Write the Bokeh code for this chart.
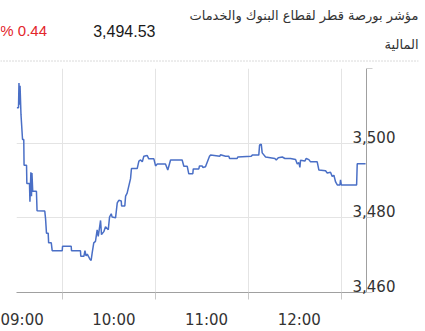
from bokeh.plotting import figure
from bokeh.layouts import column
from bokeh.models import Range1d, FixedTicker, Label, Span
from bokeh.embed import file_html
from bokeh.resources import INLINE

# ---------------- data ----------------
title_line1 = "مؤشر بورصة قطر لقطاع البنوك والخدمات"
title_line2 = "المالية"
last_value_text = "3,494.53"
change_text = "% 0.44"

open_hour = 9.5  # session opens 09:30
minutes_since_open = [
    0.2, 1.3, 1.6, 2.1, 2.3, 2.9, 3.9, 4.7, 4.9, 6.5,
    6.7, 8.4, 8.7, 9.3, 9.7, 10.0, 10.5, 12.9, 13.3, 18.3,
    18.8, 19.4, 20.5, 20.8, 22.5, 23.1, 29.6, 29.8, 35.4, 35.6,
    41.4, 41.6, 43.6, 44.3, 45.0, 45.8, 46.8, 47.4, 48.3, 49.0,
    50.0, 51.1, 52.2, 52.9, 54.4, 55.0, 56.5, 57.6, 59.4, 60.2,
    61.3, 61.9, 64.1, 65.2, 66.2, 67.8, 68.0, 70.1, 70.6, 71.6,
    73.8, 74.4, 78.1, 79.2, 80.3, 81.4, 82.4, 84.6, 85.6, 88.9,
    90.0, 91.1, 96.4, 97.9, 99.7, 107.2, 108.3, 110.5, 111.5, 114.1,
    114.4, 118.0, 118.4, 120.2, 120.6, 122.3, 124.9, 125.6, 131.6, 132.0,
    135.3, 137.4, 137.9, 142.8, 143.2, 151.9, 152.6, 156.8, 157.3, 158.4,
    159.0, 161.2, 167.2, 168.1, 169.4, 172.0, 173.7, 177.3, 180.6, 181.7,
    182.7, 183.4, 183.8, 186.6, 187.5, 189.2, 190.3, 194.6, 195.7, 200.0,
    201.1, 203.2, 204.3, 205.4, 206.5, 207.6, 209.3, 209.7, 210.2, 220.1,
    220.5, 225.9,
]
index_values = [
    3509.5, 3509.5, 3516.1, 3510.3, 3515.4, 3507.7, 3501.0, 3501.0, 3494.1, 3494.1,
    3489.2, 3489.2, 3484.3, 3492.2, 3485.8, 3492.0, 3487.1, 3487.1, 3481.9, 3481.8,
    3479.8, 3475.9, 3475.9, 3473.3, 3473.3, 3471.2, 3471.2, 3472.4, 3472.4, 3471.2,
    3471.2, 3469.7, 3469.7, 3471.2, 3469.8, 3470.3, 3469.5, 3469.0, 3468.6, 3470.7,
    3473.3, 3473.7, 3476.8, 3475.0, 3479.3, 3475.5, 3476.3, 3477.6, 3476.8, 3480.2,
    3481.1, 3480.2, 3480.0, 3484.0, 3484.7, 3484.5, 3483.2, 3483.2, 3485.8, 3486.6,
    3490.5, 3493.2, 3493.2, 3495.2, 3495.5, 3495.0, 3496.5, 3496.7, 3495.8, 3495.8,
    3493.9, 3494.4, 3494.4, 3492.8, 3495.5, 3495.5, 3493.8, 3493.8, 3491.8, 3491.8,
    3493.1, 3493.1, 3493.9, 3493.9, 3493.5, 3493.7, 3496.5, 3496.8, 3496.5, 3496.9,
    3496.5, 3496.5, 3495.9, 3495.9, 3496.3, 3496.5, 3496.8, 3496.8, 3499.5, 3499.7,
    3497.4, 3496.3, 3495.9, 3495.5, 3496.1, 3496.3, 3495.9, 3495.9, 3495.6, 3494.4,
    3494.8, 3493.5, 3495.4, 3495.2, 3495.9, 3495.6, 3495.0, 3495.0, 3492.8, 3492.6,
    3492.0, 3492.2, 3491.1, 3491.4, 3489.6, 3488.8, 3488.8, 3490.2, 3488.8, 3488.8,
    3494.5, 3494.5,
]

hour_ticks = [10, 11, 12, 13]
hour_label_pos = [9.55, 10.55, 11.55, 12.55]
hour_labels = ["09:00", "10:00", "11:00", "12:00"]
y_ticks = [3460, 3480, 3500, 3520]
x_end_hour = 13.275

hours = [open_hour + m / 60.0 for m in minutes_since_open]

AXIS_FONT = "DejaVu Sans"
TEXT_COLOR = "#333333"
GRID_COLOR = "#e4e4e4"

W = 425
HEAD_H = 62
CHART_H = 331 - HEAD_H

# ---------------- header (its own figure, pixel-like coordinates) ----------------
head = figure(width=W, height=HEAD_H, output_backend="svg", toolbar_location=None,
              x_range=Range1d(0, 418), y_range=Range1d(HEAD_H, 0),
              x_axis_type=None, y_axis_type=None,
              min_border_left=0, min_border_right=W - 418, min_border_top=0, min_border_bottom=0)
head.frame_align = False
head.outline_line_color = None
head.grid.visible = False

head.add_layout(Label(x=418, y=15, text=title_line1, text_align="right", text_baseline="middle",
                      text_font="DejaVu Sans", text_font_size="13px", text_color=TEXT_COLOR))
head.add_layout(Label(x=418, y=44, text=title_line2, text_align="right", text_baseline="middle",
                      text_font="DejaVu Sans", text_font_size="13px", text_color=TEXT_COLOR))
head.add_layout(Label(x=155, y=30, text=last_value_text, text_align="right", text_baseline="middle",
                      text_font="Liberation Sans", text_font_size="16px",
                      text_color="#1a1a1a"))
head.add_layout(Label(x=46.5, y=30, text=change_text, text_align="right", text_baseline="middle",
                      text_font="Liberation Sans", text_font_size="15px",
                      text_color="#e3262b"))
head.add_layout(Span(location=60.5, dimension="width", line_color="#b5b5b5",
                     line_dash="1 2", line_width=1))

# ---------------- chart ----------------
p = figure(width=W, height=CHART_H, output_backend="svg", toolbar_location=None,
           x_range=Range1d(open_hour, x_end_hour), y_range=Range1d(y_ticks[0], y_ticks[-1]),
           y_axis_location="right",
           min_border_left=16, min_border_right=W - 366,
           min_border_top=68 - HEAD_H, min_border_bottom=CHART_H - (300 - HEAD_H))
p.frame_align = False
p.outline_line_color = None

xa = p.xaxis[0]
xa.ticker = FixedTicker(ticks=hour_label_pos, minor_ticks=hour_ticks)
xa.major_label_overrides = dict(zip(hour_label_pos, hour_labels))
xa.major_tick_line_color = None
xa.major_tick_out = 0
xa.major_tick_in = 0
xa.minor_tick_out = 7
xa.minor_tick_in = 0
xa.minor_tick_line_color = "#c8c8c8"
xa.axis_line_color = "#a0a0a0"
xa.major_label_standoff = 11
xa.major_label_text_font = AXIS_FONT
xa.major_label_text_font_size = "15px"
xa.major_label_text_color = TEXT_COLOR

ya = p.yaxis[0]
ya.ticker = FixedTicker(ticks=y_ticks)
# labels sit above their grid line: a trailing empty line lifts the text
ya.major_label_overrides = {v: ("" if v == y_ticks[-1] else f"{v:,}\n") for v in y_ticks}
ya.major_tick_out = 6
ya.major_tick_in = 0
ya.major_tick_line_color = "#cfcfcf"
ya.minor_tick_line_color = None
ya.axis_line_color = "#a0a0a0"
ya.major_label_standoff = -20
ya.major_label_text_font = AXIS_FONT
ya.major_label_text_font_size = "15px"
ya.major_label_text_line_height = 0.6
ya.major_label_text_color = TEXT_COLOR

p.xgrid.ticker = FixedTicker(ticks=hour_ticks)
p.xgrid.grid_line_color = GRID_COLOR
p.ygrid.grid_line_color = GRID_COLOR

p.line(hours, index_values, line_color="#4a6fc6", line_width=1.5)

layout = column(head, p, spacing=0)
open("out.html", "w").write(file_html(layout, INLINE))
